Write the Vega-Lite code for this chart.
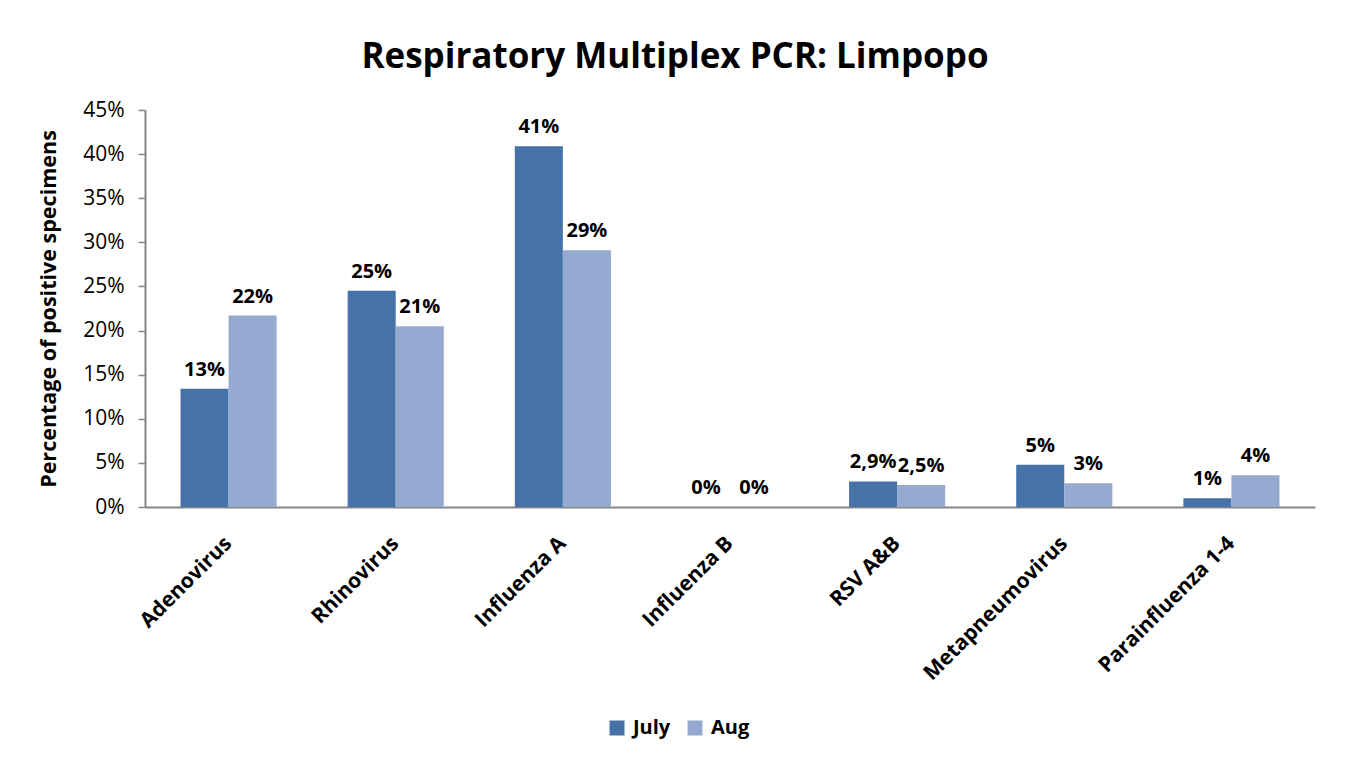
{
  "$schema": "https://vega.github.io/schema/vega-lite/v6.json",
  "width": 1170,
  "height": 397,
  "autosize": "none",
  "padding": {"left": 145, "top": 110, "right": 34, "bottom": 255},
  "background": "white",
  "title": {
    "text": "Respiratory Multiplex PCR: Limpopo",
    "font": "Open Sans",
    "fontSize": 35,
    "fontWeight": "bold",
    "color": "#000000",
    "anchor": "middle",
    "frame": "group",
    "dx": -55,
    "dy": 44,
    "baseline": "alphabetic",
    "offset": 40
  },
  "data": {
    "values": [
      {"virus": "Adenovirus", "month": "July", "value": 0.134, "label": "13%"},
      {"virus": "Adenovirus", "month": "Aug", "value": 0.217, "label": "22%"},
      {"virus": "Rhinovirus", "month": "July", "value": 0.245, "label": "25%"},
      {"virus": "Rhinovirus", "month": "Aug", "value": 0.205, "label": "21%"},
      {"virus": "Influenza A", "month": "July", "value": 0.409, "label": "41%"},
      {"virus": "Influenza A", "month": "Aug", "value": 0.291, "label": "29%"},
      {"virus": "Influenza B", "month": "July", "value": 0.0, "label": "0%"},
      {"virus": "Influenza B", "month": "Aug", "value": 0.0, "label": "0%"},
      {"virus": "RSV A&B", "month": "July", "value": 0.029, "label": "2,9%"},
      {"virus": "RSV A&B", "month": "Aug", "value": 0.025, "label": "2,5%"},
      {"virus": "Metapneumovirus", "month": "July", "value": 0.048, "label": "5%"},
      {"virus": "Metapneumovirus", "month": "Aug", "value": 0.027, "label": "3%"},
      {"virus": "Parainfluenza 1-4", "month": "July", "value": 0.01, "label": "1%"},
      {"virus": "Parainfluenza 1-4", "month": "Aug", "value": 0.036, "label": "4%"}
    ]
  },
  "encoding": {
    "x": {
      "field": "virus",
      "type": "nominal",
      "sort": null,
      "title": null,
      "scale": {"paddingInner": 0.425, "paddingOuter": 0.2125},
      "axis": {
        "labelAngle": -45,
        "labelAlign": "right",
        "labelBaseline": "middle",
        "labelFont": "Open Sans",
        "labelFontSize": 21,
        "labelFontWeight": "bold",
        "labelColor": "#000000",
        "labelPadding": 33,
        "ticks": false,
        "domainColor": "#868686",
        "domainWidth": 2,
        "labelLimit": 400
      }
    },
    "xOffset": {"field": "month", "type": "nominal", "sort": ["July", "Aug"]},
    "y": {
      "field": "value",
      "type": "quantitative",
      "scale": {"domain": [0, 0.45], "nice": false},
      "axis": {
        "title": "Percentage of  positive specimens",
        "titleFont": "Open Sans",
        "titleFontSize": 21.5,
        "titleFontWeight": "bold",
        "titleColor": "#000000",
        "titlePadding": 22,
        "values": [0, 0.05, 0.1, 0.15, 0.2, 0.25, 0.3, 0.35, 0.4, 0.45],
        "format": ".0%",
        "labelFont": "Open Sans",
        "labelFontSize": 21,
        "labelColor": "#000000",
        "labelPadding": 14,
        "tickSize": 7,
        "tickColor": "#868686",
        "tickWidth": 1.5,
        "domainColor": "#868686",
        "domainWidth": 2,
        "grid": false
      }
    }
  },
  "layer": [
    {
      "mark": {"type": "bar"},
      "encoding": {
        "color": {
          "field": "month",
          "type": "nominal",
          "sort": ["July", "Aug"],
          "scale": {"domain": ["July", "Aug"], "range": ["#4672A8", "#95AAD1"]},
          "legend": {
            "title": null,
            "orient": "none",
            "direction": "horizontal",
            "legendX": 462,
            "legendY": 608,
            "symbolType": "square",
            "symbolSize": 225,
            "symbolStrokeWidth": 0,
            "labelFont": "Open Sans",
            "labelFontSize": 20,
            "labelFontWeight": "bold",
            "labelColor": "#000000",
            "columnPadding": 14,
            "labelOffset": 6
          }
        }
      }
    },
    {
      "mark": {
        "type": "text",
        "font": "Open Sans",
        "fontSize": 20,
        "fontWeight": "bold",
        "color": "#000000",
        "baseline": "alphabetic",
        "dy": -13
      },
      "encoding": {"text": {"field": "label"}}
    }
  ],
  "config": {"view": {"stroke": null}}
}
